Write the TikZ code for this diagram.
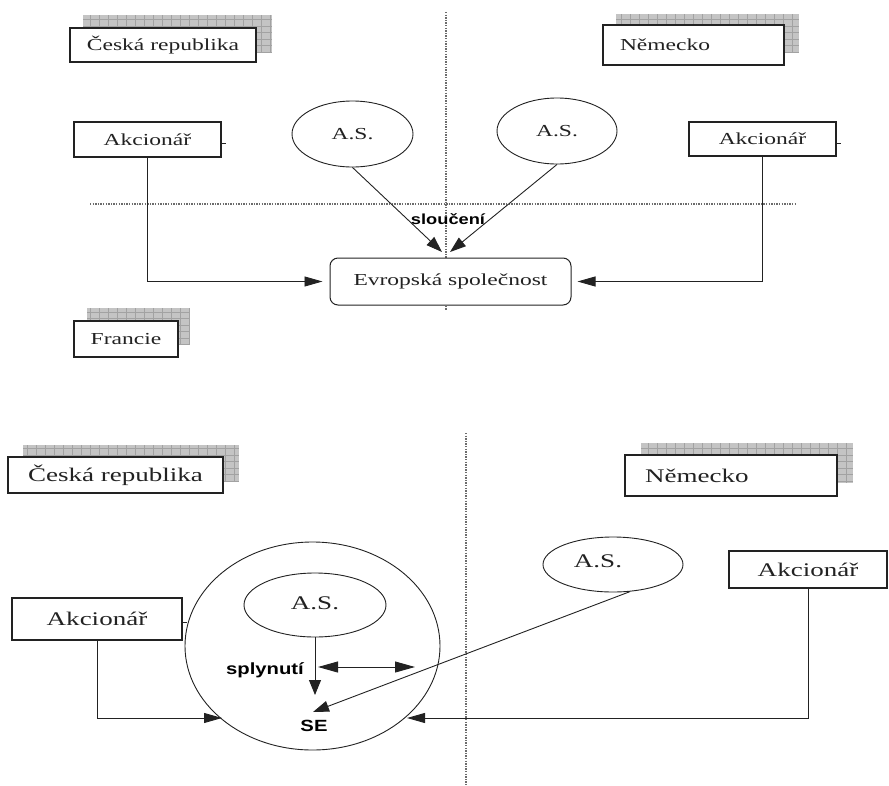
\documentclass[tikz,border=0pt]{standalone}
\usepackage{fontspec}
\usetikzlibrary{arrows.meta,shapes.geometric}
\newfontfamily\wideserif[FakeStretch=1.4]{Liberation Serif}
\newfontfamily\widesans[FakeStretch=1.25]{Liberation Sans}
\definecolor{ink}{HTML}{222222}
\definecolor{shadefill}{HTML}{C4C4C4}
\definecolor{shadeline}{HTML}{A2A2A2}
\begin{document}
\begin{tikzpicture}[x=1pt,y=-1pt,
  sbox/.style={draw=ink, line width=1.3pt, fill=white, inner sep=0pt, text=ink},
  topfont/.style={font=\wideserif\fontsize{16.8}{18}\selectfont},
  botfont/.style={font=\wideserif\fontsize{19.3}{21}\selectfont},
  oval/.style={ellipse, draw=ink, line width=0.9pt, fill=white, inner sep=0pt, text=ink},
  conn/.style={draw=ink, line width=0.9pt},
  harr/.style={conn, -{Triangle[length=18pt,width=10pt]}},
  varr/.style={conn, -{Triangle[length=15pt,width=12pt]}},
  darr/.style={conn, -{Triangle[length=16pt,width=11pt]}},
  dbl/.style={conn, {Triangle[length=20pt,width=11pt]}-{Triangle[length=20pt,width=11pt]}},
  tag/.style={font=\widesans\bfseries\fontsize{#1}{#1}\selectfont, text=black, inner sep=0pt},
  border/.style={draw=gray!85!black, line width=1.1pt, dash pattern=on 1.3pt off 1.3pt},
  shade/.style={fill=shadefill},
  shadegrid/.style={draw=shadeline, line width=0.5pt, xstep=9pt, ystep=6.5pt}]

\path[use as bounding box] (0,0) rectangle (889,785);

% ---------------- upper scheme: merger (sloučení) ----------------
\draw[border] (446,12) -- (446,310);
\draw[border] (90,204) -- (795,204);

% country labels with grid shadows
\fill[shade] (83,15) rectangle (272,53);
\draw[shadegrid] (83,15) grid (272,53);
\node[sbox, topfont, minimum width=186pt, minimum height=34pt] (czT) at (163,45) {Česká republika};

\fill[shade] (616,14) rectangle (799,53);
\draw[shadegrid] (616,14) grid (799,53);
\node[sbox, topfont, minimum height=40pt, text width=147pt, inner xsep=17pt, align=left] (deT) at (693.5,45) {Německo};

\fill[shade] (87,308) rectangle (190,345);
\draw[shadegrid] (87,308) grid (190,345);
\node[sbox, topfont, minimum width=104pt, minimum height=36pt] (frT) at (126,339) {Francie};

% shareholders and companies
\node[sbox, topfont, minimum width=147pt, minimum height=35pt] (akTL) at (147.5,139.5) {Akcionář};
\node[sbox, topfont, minimum width=147pt, minimum height=34pt] (akTR) at (762.5,139) {Akcionář};
\draw[conn] (akTL.east |- 0,143) -- ++(4,0);
\draw[conn] (akTR.east |- 0,143) -- ++(4,0);

\node[oval, topfont, minimum width=121pt, minimum height=66pt] (asTL) at (352.5,134) {A.S.};
\node[oval, topfont, minimum width=120pt, minimum height=66pt] (asTR) at (557,131) {A.S.};

\node[sbox, topfont, rounded corners=8pt, line width=1pt, minimum width=241pt, minimum height=47pt] (es) at (450.5,281.5) {Evropská společnost};

\coordinate (tipTL) at (442,252);
\coordinate (tipTR) at (450,252);
\draw[darr] (asTL.south) -- (tipTL);
\draw[darr] (asTR.south) -- (tipTR);
\node[tag=14.6] (slouceni) at (448,219) {sloučení};

\draw[harr] (akTL.south) |- ([xshift=-7pt]es.west);
\draw[harr] (akTR.south) |- ([xshift=6pt]es.east);

% ---------------- lower scheme: fusion (splynutí) ----------------
\draw[border] (466,433) -- (466,785);

\fill[shade] (23,445) rectangle (239,482);
\draw[shadegrid] (23,445) grid (239,482);
\node[sbox, botfont, minimum width=215pt, minimum height=36pt] (czB) at (115.5,475) {Česká republika};

\fill[shade] (641,443) rectangle (853,483);
\draw[shadegrid] (641,443) grid (853,483);
\node[sbox, botfont, minimum height=41pt, text width=172pt, inner xsep=20pt, align=left] (deB) at (731,475.5) {Německo};

\node[sbox, botfont, minimum width=158pt, minimum height=37pt] (akBR) at (808,569.5) {Akcionář};
\node[sbox, botfont, minimum width=170pt, minimum height=42pt] (akBL) at (97,619) {Akcionář};
\draw[conn] (akBL.east |- 0,622) -- ++(4,0);

\node[oval, botfont, minimum width=140pt, minimum height=55pt, text depth=6pt] (asBR) at (613,564.5) {A.S.\hspace*{30pt}};

\node[ellipse, draw=ink, line width=0.9pt, minimum width=255pt, minimum height=208pt, inner sep=0pt] (se) at (312.5,646) {};
\node[oval, botfont, minimum width=142pt, minimum height=64pt, text depth=4pt] (asBI) at (315,605) {A.S.};

\coordinate (seTip) at (315,695);
\draw[varr] (asBI.south) -- (seTip);
\coordinate (dblL) at (318,667);
\coordinate (dblR) at (415,667);
\draw[dbl] (dblL) -- (dblR);
\node[tag=16.2] (splynuti) at (265,670) {splynutí};
\node[tag=16.2] (seLabel) at (314,726) {SE};

\coordinate (crossTip) at (313,712);
\draw[darr] (asBR.-58) -- (crossTip);

\draw[harr] (akBL.south) |- (222,718);
\draw[harr] (akBR.south) |- (407,718);

\end{tikzpicture}
\end{document}
